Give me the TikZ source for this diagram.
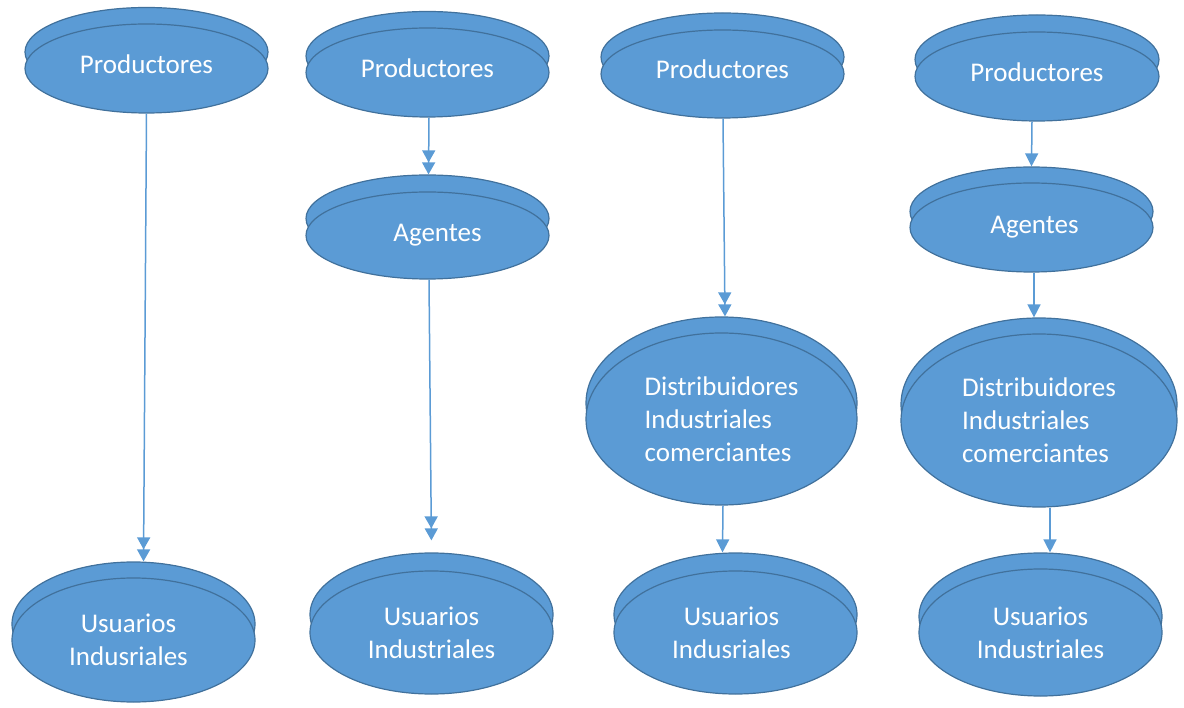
\documentclass[tikz,border=0pt]{standalone}
\usepackage{fontspec}
\setmainfont{Carlito}
\usepackage{tikz}
\usetikzlibrary{shapes.geometric,arrows.meta}

\definecolor{azul}{HTML}{5B9BD5}
\definecolor{borde}{HTML}{41719C}

\tikzset{
  disco/.style={ellipse,draw=borde,fill=azul,line width=1.2pt,inner sep=0pt,
    text=white,font=\fontsize{27}{33}\selectfont,align=center},
  flecha/.style={draw=azul,line width=1.5pt,-{Triangle[length=13pt,width=13pt]}},
  dflecha/.style={draw=azul,line width=1.5pt,
    -{Triangle[length=12pt,width=13pt,sep=0pt]Triangle[length=12pt,width=13pt]}}
}
\newcommand{\productores}{\raisebox{9pt}{Productores}}

\begin{document}
\begin{tikzpicture}[x=1pt,y=-1pt]
\useasboundingbox (0,0) rectangle (1184,708);

% primera columna
\node[disco,minimum width=243pt,minimum height=89pt] (p1b) at (146.5,52) {};
\node[disco,minimum width=243pt,minimum height=89pt] (p1) at (146.5,68.5) {\productores};
\node[disco,minimum width=243pt,minimum height=124pt] (u1b) at (133.5,624) {};
\node[disco,minimum width=243pt,minimum height=124pt] (u1) at (133.5,640) {Usuarios\hspace*{10pt}\\Indusriales\hspace*{10pt}};
\draw[dflecha] (p1.south) -- ([xshift=10pt]u1b.north);

% segunda columna
\node[disco,minimum width=243pt,minimum height=89pt] (p2b) at (427.5,56) {};
\node[disco,minimum width=243pt,minimum height=89pt] (p2) at (427.5,72.5) {\productores};
\node[disco,minimum width=243pt,minimum height=87pt] (a2b) at (427.5,218.5) {};
\node[disco,minimum width=243pt,minimum height=87pt] (a2) at (427.5,235.5) {\hspace*{20pt}Agentes};
\node[disco,minimum width=243pt,minimum height=123pt] (u2b) at (431.5,614.5) {};
\node[disco,minimum width=243pt,minimum height=123pt] (u2) at (431.5,632.5) {Usuarios\\Industriales};
\draw[dflecha] ([xshift=1.5pt]p2.south) -- ([xshift=1pt]a2b.north);
\draw[dflecha,shorten >=12pt] ([xshift=1.5pt]a2.south) -- (u2b.north);

% tercera columna
\node[disco,minimum width=243pt,minimum height=88pt] (p3b) at (722.5,57) {};
\node[disco,minimum width=243pt,minimum height=88pt] (p3) at (722.5,74) {\productores};
\node[disco,minimum width=271pt,minimum height=172pt] (d3b) at (721.5,403) {};
\node[disco,minimum width=271pt,minimum height=172pt,align=left] (d3) at (721.5,419) {Distribuidores\\Industriales\\comerciantes};
\node[disco,minimum width=243pt,minimum height=123pt] (u3b) at (735.5,614.5) {};
\node[disco,minimum width=243pt,minimum height=123pt] (u3) at (735.5,632.5) {Usuarios\hspace*{8pt}\\Indusriales\hspace*{8pt}};
\draw[dflecha] ([xshift=0.5pt]p3.south) -- ([xshift=3.5pt]d3b.north);
\draw[flecha] ([xshift=1.5pt]d3.south) -- ([xshift=-13pt]u3b.north);

% cuarta columna
\node[disco,minimum width=244pt,minimum height=89pt] (p4b) at (1037,59.5) {};
\node[disco,minimum width=244pt,minimum height=89pt] (p4) at (1037,76.5) {\productores};
\node[disco,minimum width=243pt,minimum height=89pt] (a4b) at (1031.5,211.5) {};
\node[disco,minimum width=243pt,minimum height=89pt] (a4) at (1031.5,227.5) {\hspace*{6pt}Agentes};
\node[disco,minimum width=276pt,minimum height=173pt] (d4b) at (1039,404.5) {};
\node[disco,minimum width=276pt,minimum height=173pt,align=left] (d4) at (1039,420.5) {Distribuidores\\Industriales\\comerciantes};
\node[disco,minimum width=243pt,minimum height=127pt] (u4b) at (1040.5,616.5) {};
\node[disco,minimum width=243pt,minimum height=127pt] (u4) at (1040.5,632.5) {Usuarios\\Industriales};
\draw[flecha] ([xshift=-5pt]p4.south) -- (a4b.north);
\draw[flecha] ([xshift=2.5pt]a4.south) -- ([xshift=-5pt]d4b.north);
\draw[flecha] ([xshift=11pt]d4.south) -- ([xshift=9.5pt]u4b.north);
\end{tikzpicture}
\end{document}
